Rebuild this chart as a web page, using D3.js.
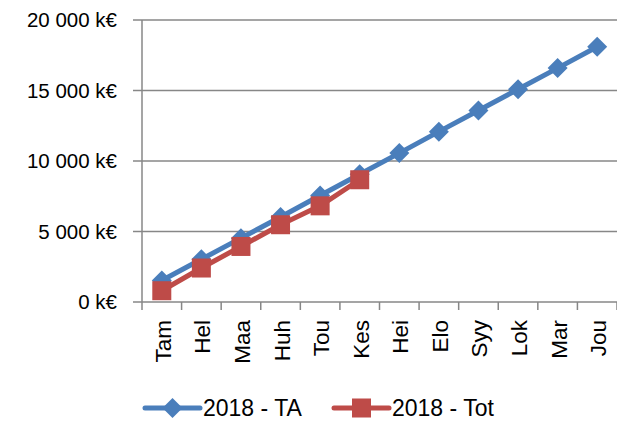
<!DOCTYPE html>
<html lang="fi">
<head>
<meta charset="UTF-8">
<title>2018 kumulatiivinen</title>
<script src="https://d3js.org/d3.v7.min.js"></script>
<style>
    body { margin: 0; background: #fff; }
    svg { display: block; font-family: "Liberation Sans", Arial, sans-serif; }
</style>
</head>
<body>
<svg id="chart" width="617" height="424"></svg>
<script>
    const months = ["Tam", "Hel", "Maa", "Huh", "Tou", "Kes", "Hei", "Elo", "Syy", "Lok", "Mar", "Jou"];
    const valuesTA = [1520, 3030, 4530, 6030, 7550, 9060, 10560, 12080, 13580, 15090, 16590, 18100];
    const valuesTot = [800, 2410, 3940, 5480, 6820, 8670];
    const yTicks = [0, 5000, 10000, 15000, 20000];
    const seriesNames = ["2018 - TA", "2018 - Tot"];

    const svg = d3.select("#chart");
    const plotLeft = 142, plotRight = 617, plotTop = 20, plotBottom = 302;

    const x = d3.scaleBand().domain(months).range([plotLeft, plotRight]);
    const y = d3.scaleLinear().domain([0, 20000]).range([plotBottom, plotTop]);

    const fmt = v => d3.format(",")(v).replace(/,/g, " ") + " k€";

    // gridlines
    svg.append("g")
        .selectAll("line")
        .data(yTicks)
        .join("line")
        .attr("x1", plotLeft - 9)
        .attr("x2", plotRight)
        .attr("y1", d => y(d))
        .attr("y2", d => y(d))
        .attr("stroke", "#878787")
        .attr("stroke-width", 1.5);

    // y labels
    svg.append("g")
        .selectAll("text")
        .data(yTicks)
        .join("text")
        .attr("x", 117)
        .attr("y", d => y(d))
        .attr("dy", "0.36em")
        .attr("text-anchor", "end")
        .attr("font-size", 20.5)
        .attr("fill", "#000")
        .text(fmt);

    // y axis line
    svg.append("line")
        .attr("x1", plotLeft).attr("x2", plotLeft)
        .attr("y1", plotTop).attr("y2", plotBottom + 8)
        .attr("stroke", "#878787").attr("stroke-width", 1.5);

    // x ticks
    svg.append("g")
        .selectAll("line")
        .data(months)
        .join("line")
        .attr("x1", d => x(d) + x.step())
        .attr("x2", d => x(d) + x.step())
        .attr("y1", plotBottom)
        .attr("y2", plotBottom + 8)
        .attr("stroke", "#878787")
        .attr("stroke-width", 1.5);

    // x labels
    svg.append("g")
        .selectAll("text")
        .data(months)
        .join("text")
        .attr("transform", d => `translate(${x(d) + x.bandwidth() / 2 + 9}, 320) rotate(-90)`)
        .attr("text-anchor", "end")
        .attr("font-size", 22.5)
        .attr("fill", "#000")
        .text(d => d);

    const line = d3.line()
        .x((d, i) => x(months[i]) + x.bandwidth() / 2)
        .y(d => y(d));

    const blue = "#4A7EBB", red = "#BE4B48";
    const diamond = (g, cx, cy) => g.append("path")
        .attr("d", `M${cx},${cy - 10}L${cx + 10},${cy}L${cx},${cy + 10}L${cx - 10},${cy}Z`)
        .attr("fill", blue);
    const square = (g, cx, cy) => g.append("rect")
        .attr("x", cx - 9.5).attr("y", cy - 9.5)
        .attr("width", 19).attr("height", 19)
        .attr("fill", red);

    // TA series
    const gTA = svg.append("g");
    gTA.append("path")
        .datum(valuesTA)
        .attr("d", line)
        .attr("fill", "none")
        .attr("stroke", blue)
        .attr("stroke-width", 5)
        .attr("stroke-linejoin", "round");
    valuesTA.forEach((v, i) => diamond(gTA, x(months[i]) + x.bandwidth() / 2, y(v)));

    // Tot series
    const gTot = svg.append("g");
    gTot.append("path")
        .datum(valuesTot)
        .attr("d", line)
        .attr("fill", "none")
        .attr("stroke", red)
        .attr("stroke-width", 5)
        .attr("stroke-linejoin", "round");
    valuesTot.forEach((v, i) => square(gTot, x(months[i]) + x.bandwidth() / 2, y(v)));

    // legend
    const legend = svg.append("g");
    const items = [
        { name: seriesNames[0], color: blue, x0: 145, shape: diamond },
        { name: seriesNames[1], color: red, x0: 334, shape: square }
    ];
    const ly = 408;
    items.forEach(it => {
        legend.append("line")
            .attr("x1", it.x0).attr("x2", it.x0 + 55)
            .attr("y1", ly).attr("y2", ly)
            .attr("stroke", it.color).attr("stroke-width", 5)
            .attr("stroke-linecap", "round");
        it.shape(legend, it.x0 + 27.5, ly);
        legend.append("text")
            .attr("x", it.x0 + 58)
            .attr("y", ly)
            .attr("dy", "0.36em")
            .attr("font-size", 23)
            .attr("fill", "#000")
            .text(it.name);
    });
</script>
</body>
</html>
